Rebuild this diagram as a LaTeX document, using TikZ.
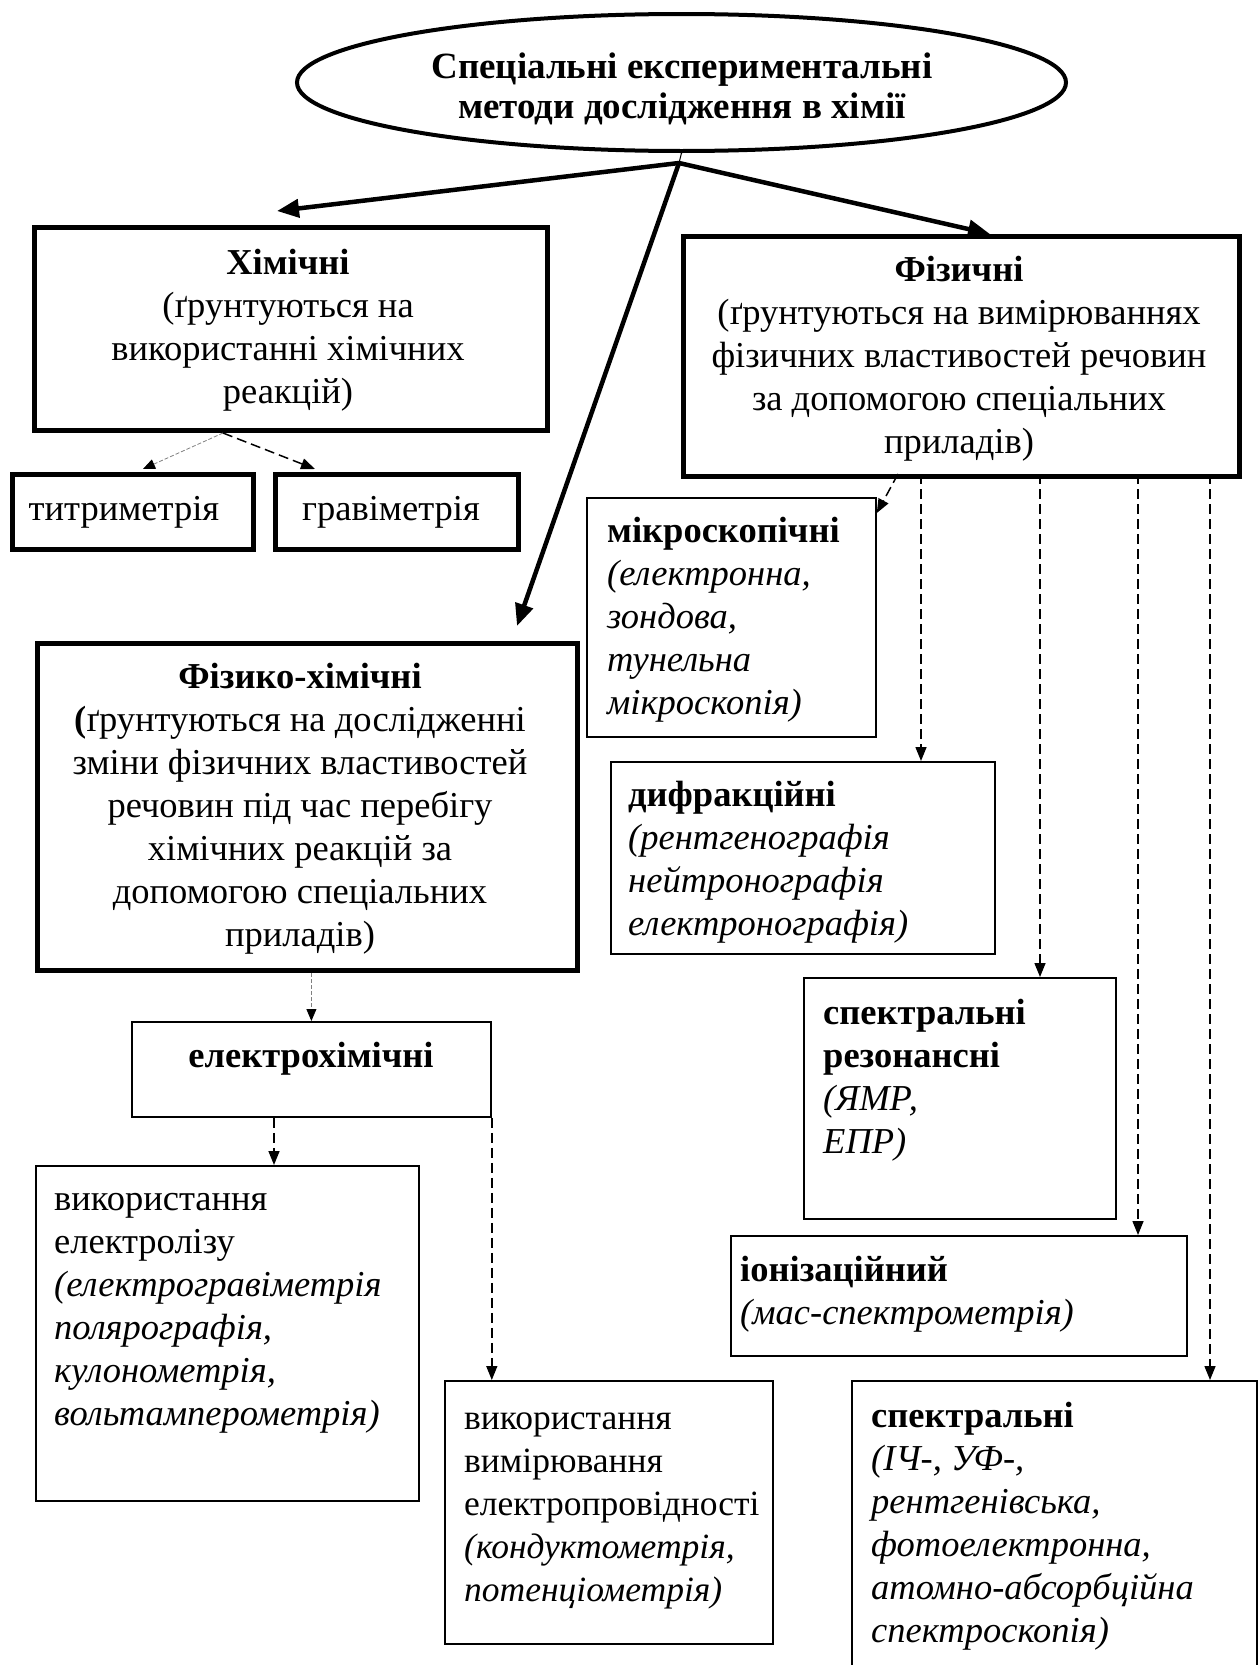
\documentclass[tikz,border=0pt]{standalone}
\usepackage{fontspec}
\setmainfont{Liberation Serif}
\usetikzlibrary{shapes.geometric,arrows.meta,calc}
\newcommand{\fs}{\fontsize{36.5}{43}\selectfont}
\newcommand{\fsn}{\fontsize{35.5}{43}\selectfont}
\newcommand{\fe}{\fontsize{37}{40}\selectfont}
\begin{document}
\begin{tikzpicture}[x=1pt,y=-1pt,
  thickbox/.style={draw, line width=5pt, rectangle, inner sep=0pt, anchor=north west},
  thinbox/.style={draw, line width=1.8pt, rectangle, inner sep=0pt, anchor=north west},
  tx/.style={inner sep=0pt, font=\fs},
  bigarrow/.style={line width=4.5pt, -{Triangle[length=22pt,width=18pt]}},
  dsh/.style={line width=1.5pt, dash pattern=on 10pt off 5pt, -{Triangle[length=14pt,width=11pt]}},
  fine/.style={line width=0.8pt, draw=gray, dash pattern=on 4pt off 2pt, -{Triangle[length=12pt,width=10pt,color=black]}}
]
\useasboundingbox (0,0) rectangle (1258,1665);
\clip (0,0) rectangle (1258,1665);

% top ellipse
\node[ellipse, draw, line width=4pt, minimum width=769pt, minimum height=137pt, inner sep=0pt] (ell) at (681.5,82.5) {};
\node[inner sep=0pt, anchor=north, align=center, font=\fe\bfseries] (ellt) at (682,50)
      {\strut Спеціальні експериментальні\\методи дослідження в хімії};

% boxes
\node[thickbox, minimum width=513pt, minimum height=203pt] (him) at (32,225) {};
\node[thickbox, minimum width=241pt, minimum height=75pt] (titr) at (10,472) {};
\node[thickbox, minimum width=243pt, minimum height=75pt] (grav) at (273,472) {};
\node[thickbox, minimum width=556pt, minimum height=240pt] (fiz) at (681,234) {};
\node[thickbox, minimum width=540pt, minimum height=327pt] (fh) at (35,641) {};
\node[thinbox, minimum width=359pt, minimum height=95pt] (el) at (131,1021) {};
\node[thinbox, minimum width=383pt, minimum height=335pt] (elz) at (35,1165) {};
\node[thinbox, minimum width=328pt, minimum height=263pt] (cond) at (444,1380) {};
\node[thinbox, minimum width=289pt, minimum height=239pt] (mic) at (586,497) {};
\node[thinbox, minimum width=384pt, minimum height=192pt] (dif) at (610,761) {};
\node[thinbox, minimum width=312pt, minimum height=241pt] (res) at (803,977) {};
\node[thinbox, minimum width=456pt, minimum height=120pt] (ion) at (730,1235) {};
\node[thinbox, minimum width=405pt, minimum height=320pt] (spec) at (851,1380) {};

% texts
\node[tx] (titrt) at ($(titr.center)+(-9,0)$) {титриметрія};
\node[tx] (gravt) at ($(grav.center)+(-6,0)$) {гравіметрія};
\node[tx, anchor=north, align=center] (himt) at (288,244)
  {\strut\textbf{Хімічні}\\(ґрунтуються на\\використанні хімічних\\реакцій)};
\node[tx, anchor=north, align=center] (fizt) at (959,251)
  {\strut\textbf{Фізичні}\\(ґрунтуються на вимірюваннях\\фізичних властивостей речовин\\за допомогою спеціальних\\приладів)};
\node[tx, anchor=north, align=center] (fht) at (300,658)
  {\strut\textbf{Фізико-хімічні}\\\textbf{(}ґрунтуються на дослідженні\\зміни фізичних властивостей\\речовин під час перебігу\\хімічних реакцій за\\допомогою спеціальних\\приладів)};
\node[tx, anchor=north] (elt) at (311,1037) {\strut\textbf{електрохімічні}};
\node[tx, anchor=north west, align=left] (elzt) at (54,1180)
  {\strut використання\\електролізу\\\textit{(електрогравіметрія}\\\textit{полярографія,}\\\textit{кулонометрія,}\\\textit{вольтамперометрія)}};
\node[tx, font=\fsn, anchor=north west, align=left] (condt) at (464,1399)
  {\strut використання\\вимірювання\\електропровідності\\\textit{(кондуктометрія,}\\\textit{потенціометрія)}};
\node[tx, anchor=north west, align=left] (mict) at (607,512)
  {\strut\textbf{мікроскопічні}\\\textit{(електронна,}\\\textit{зондова,}\\\textit{тунельна}\\\textit{мікроскопія)}};
\node[tx, anchor=north west, align=left] (dift) at (628,776)
  {\strut\textbf{дифракційні}\\\textit{(рентгенографія}\\\textit{нейтронографія}\\\textit{електронографія)}};
\node[tx, anchor=north west, align=left] (rest) at (823,994)
  {\strut\textbf{спектральні}\\\textbf{резонансні}\\\textit{(ЯМР,}\\\textit{ЕПР)}};
\node[tx, anchor=north west, align=left] (iont) at (740,1251)
  {\strut\textbf{іонізаційний}\\\textit{(мас-спектрометрія)}};
\node[tx, anchor=north west, align=left] (spect) at (871,1397)
  {\strut\textbf{спектральні}\\\textit{(ІЧ-, УФ-,}\\\textit{рентгенівська,}\\\textit{фотоелектронна,}\\\textit{атомно-абсорбційна}\\\textit{спектроскопія)}};

% main arrows
\coordinate (j) at (679,163);
\draw[line width=1pt] (ell.south) -- (j);
\draw[bigarrow] (j) -- ($(him.north west)+(245,-14)$);
\draw[bigarrow] (j) -- ($(fiz.north west)+(309,0)$);
\draw[bigarrow] (j) -- ($(fh.north west)+(482,-15)$);

% chemical sub-methods
\coordinate (h1) at ($(him.south west)+(191,0)$);
\draw[fine] (h1) -- ($(titr.north)+(10,-3)$);
\draw[dsh] (h1) -- ($(grav.north)+(-82,-3)$);

% physico-chemical
\draw[fine] (fh.south -| el.north) -- (el.north);
\coordinate (e1) at ($(el.south west)+(143,0)$);
\draw[dsh] (e1) -- (e1 |- elz.north);
\draw[dsh] (el.south east) -- (el.south east |- cond.north);

% physical sub-methods
\coordinate (f0) at (898,474);
\coordinate (f1) at (921,474);
\coordinate (f2) at (1040,474);
\coordinate (f3) at (1138,474);
\coordinate (f4) at (1210,474);
\draw[dsh] (f0) -- ($(mic.north east)+(0,16)$);
\draw[dsh] (f1) -- (f1 |- dif.north);
\draw[dsh] (f2) -- (f2 |- res.north);
\draw[dsh] (f3) -- (f3 |- ion.north);
\draw[dsh] (f4) -- (f4 |- spec.north);
\end{tikzpicture}
\end{document}
